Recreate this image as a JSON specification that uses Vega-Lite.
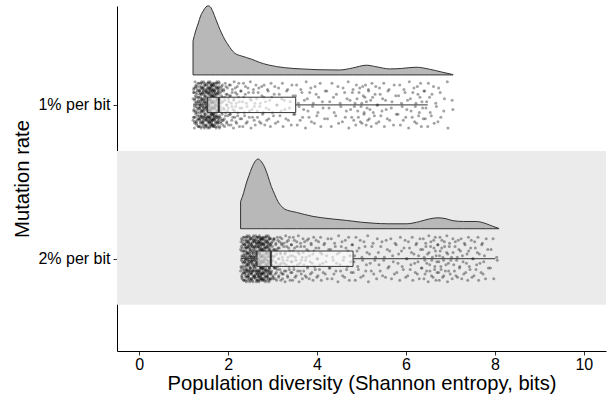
{
"$schema":"https://vega.github.io/schema/vega-lite/v6.json",
"width":489,"height":345,
"autosize":{"type":"none"},
"padding":{"left":117,"top":6,"right":2,"bottom":48},
"config":{"view":{"stroke":null},"font":"Liberation Sans",
 "axis":{"grid":false,"domainColor":"black","domainWidth":1,"tickColor":"#333333","tickSize":4,"tickWidth":1,"labelFont":"Liberation Sans","labelFontSize":16,"labelColor":"black","titleFont":"Liberation Sans","titleFontSize":20.2,"titleFontWeight":"normal","titleColor":"black"},
 "axisX":{"labelBaseline":"alphabetic","labelPadding":14.5,"titleY":38.5,"titleBaseline":"alphabetic"},
 "axisY":{"labelPadding":3,"titleX":-88.5,"titleBaseline":"alphabetic"}},
"datasets":{
"band":[{"lo":0.7,"hi":1.7}],
"dens":[
{"g":2,"x":1.21,"d":0.221},{"g":2,"x":1.27,"d":0.286},{"g":2,"x":1.33,"d":0.338},{"g":2,"x":1.38,"d":0.383},{"g":2,"x":1.44,"d":0.416},{"g":2,"x":1.50,"d":0.442},{"g":2,"x":1.55,"d":0.449},{"g":2,"x":1.60,"d":0.442},{"g":2,"x":1.66,"d":0.409},{"g":2,"x":1.72,"d":0.364},{"g":2,"x":1.78,"d":0.320},{"g":2,"x":1.85,"d":0.273},{"g":2,"x":1.93,"d":0.227},{"g":2,"x":2.00,"d":0.195},{"g":2,"x":2.08,"d":0.162},{"g":2,"x":2.15,"d":0.141},{"g":2,"x":2.30,"d":0.123},{"g":2,"x":2.53,"d":0.102},{"g":2,"x":2.70,"d":0.082},{"g":2,"x":2.90,"d":0.065},{"g":2,"x":3.27,"d":0.047},{"g":2,"x":3.65,"d":0.039},{"g":2,"x":4.00,"d":0.034},{"g":2,"x":4.51,"d":0.032},{"g":2,"x":4.80,"d":0.045},{"g":2,"x":5.11,"d":0.063},{"g":2,"x":5.35,"d":0.052},{"g":2,"x":5.63,"d":0.039},{"g":2,"x":5.90,"d":0.042},{"g":2,"x":6.23,"d":0.050},{"g":2,"x":6.53,"d":0.037},{"g":2,"x":6.80,"d":0.019},{"g":2,"x":7.06,"d":0.002},
{"g":1,"x":2.28,"d":0.177},{"g":1,"x":2.35,"d":0.234},{"g":1,"x":2.41,"d":0.297},{"g":1,"x":2.47,"d":0.347},{"g":1,"x":2.53,"d":0.394},{"g":1,"x":2.60,"d":0.435},{"g":1,"x":2.67,"d":0.453},{"g":1,"x":2.75,"d":0.435},{"g":1,"x":2.83,"d":0.394},{"g":1,"x":2.90,"d":0.338},{"g":1,"x":2.97,"d":0.275},{"g":1,"x":3.05,"d":0.221},{"g":1,"x":3.12,"d":0.177},{"g":1,"x":3.20,"d":0.146},{"g":1,"x":3.27,"d":0.128},{"g":1,"x":3.54,"d":0.106},{"g":1,"x":3.91,"d":0.080},{"g":1,"x":4.29,"d":0.065},{"g":1,"x":4.66,"d":0.054},{"g":1,"x":5.00,"d":0.042},{"g":1,"x":5.26,"d":0.036},{"g":1,"x":5.60,"d":0.032},{"g":1,"x":6.01,"d":0.032},{"g":1,"x":6.31,"d":0.047},{"g":1,"x":6.50,"d":0.062},{"g":1,"x":6.72,"d":0.071},{"g":1,"x":6.90,"d":0.065},{"g":1,"x":7.06,"d":0.052},{"g":1,"x":7.30,"d":0.047},{"g":1,"x":7.58,"d":0.047},{"g":1,"x":7.81,"d":0.032},{"g":1,"x":7.95,"d":0.016},{"g":1,"x":8.09,"d":0.002}
],
"box":[
{"g":2,"lo":1.21,"q1":1.54,"med":1.79,"q3":3.52,"hi":6.49},
{"g":1,"lo":2.28,"q1":2.65,"med":2.96,"q3":4.81,"hi":8.01}
],
"pts":[
{"x":1.21,"y":2.04},{"x":1.22,"y":1.92},{"x":1.23,"y":2.11},{"x":1.24,"y":1.99},{"x":1.25,"y":1.88},{"x":1.26,"y":2.06},{"x":1.27,"y":1.95},{"x":1.28,"y":2.13},{"x":1.29,"y":2.02},{"x":1.30,"y":1.90},{"x":1.31,"y":2.09},{"x":1.32,"y":1.97},{"x":1.33,"y":1.86},{"x":1.34,"y":2.05},{"x":1.35,"y":1.93},{"x":1.36,"y":2.12},{"x":1.37,"y":2.00},{"x":1.38,"y":1.89},{"x":1.39,"y":2.07},{"x":1.40,"y":1.96},{"x":1.41,"y":2.14},{"x":1.42,"y":2.03},{"x":1.43,"y":1.91},{"x":1.44,"y":2.10},{"x":1.45,"y":1.98},{"x":1.46,"y":1.87},{"x":1.47,"y":2.06},{"x":1.48,"y":1.94},{"x":1.49,"y":2.13},{"x":1.50,"y":2.01},{"x":1.51,"y":1.90},{"x":1.52,"y":2.08},{"x":1.53,"y":1.97},{"x":1.54,"y":1.85},
{"x":1.21,"y":1.90},{"x":1.22,"y":2.08},{"x":1.23,"y":1.97},{"x":1.24,"y":1.85},{"x":1.25,"y":2.04},{"x":1.26,"y":1.92},{"x":1.27,"y":2.11},{"x":1.28,"y":1.99},{"x":1.29,"y":1.88},{"x":1.30,"y":2.07},{"x":1.31,"y":1.95},{"x":1.32,"y":2.14},{"x":1.33,"y":2.02},{"x":1.34,"y":1.91},{"x":1.35,"y":2.09},{"x":1.36,"y":1.98},{"x":1.37,"y":1.86},{"x":1.38,"y":2.05},{"x":1.39,"y":1.93},{"x":1.40,"y":2.12},{"x":1.41,"y":2.01},{"x":1.42,"y":1.89},{"x":1.43,"y":2.08},{"x":1.44,"y":1.96},{"x":1.45,"y":2.15},{"x":1.46,"y":2.03},{"x":1.47,"y":1.92},{"x":1.48,"y":2.10},{"x":1.49,"y":1.99},{"x":1.50,"y":1.87},{"x":1.51,"y":2.04},{"x":1.52,"y":1.92},{"x":1.53,"y":2.11},{"x":1.54,"y":1.99},
{"x":1.35,"y":2.01},{"x":1.36,"y":1.90},{"x":1.37,"y":2.08},{"x":1.38,"y":1.97},{"x":1.39,"y":1.85},{"x":1.40,"y":2.04},{"x":1.41,"y":1.92},{"x":1.42,"y":2.11},{"x":1.43,"y":1.99},{"x":1.44,"y":1.88},{"x":1.45,"y":2.07},{"x":1.46,"y":1.95},{"x":1.47,"y":2.14},{"x":1.48,"y":2.02},{"x":1.49,"y":1.91},{"x":1.50,"y":2.09},{"x":1.51,"y":1.98},{"x":1.52,"y":1.86},{"x":1.53,"y":2.05},{"x":1.54,"y":1.93},
{"x":1.55,"y":2.04},{"x":1.56,"y":1.92},{"x":1.57,"y":2.11},{"x":1.58,"y":1.99},{"x":1.59,"y":1.88},{"x":1.60,"y":2.06},{"x":1.61,"y":1.95},{"x":1.62,"y":2.13},{"x":1.63,"y":2.02},{"x":1.64,"y":1.90},{"x":1.65,"y":2.09},{"x":1.66,"y":1.97},{"x":1.67,"y":1.86},{"x":1.68,"y":2.05},{"x":1.69,"y":1.93},{"x":1.70,"y":2.12},{"x":1.71,"y":2.00},{"x":1.72,"y":1.89},{"x":1.73,"y":2.07},{"x":1.74,"y":1.96},{"x":1.75,"y":2.14},{"x":1.76,"y":2.03},{"x":1.77,"y":1.91},{"x":1.78,"y":2.10},{"x":1.79,"y":1.98},
{"x":1.55,"y":1.90},{"x":1.56,"y":2.08},{"x":1.57,"y":1.97},{"x":1.58,"y":1.85},{"x":1.59,"y":2.04},{"x":1.60,"y":1.92},{"x":1.61,"y":2.11},{"x":1.62,"y":1.99},{"x":1.63,"y":1.88},{"x":1.64,"y":2.07},{"x":1.65,"y":1.95},{"x":1.66,"y":2.14},{"x":1.67,"y":2.02},{"x":1.68,"y":1.91},{"x":1.69,"y":2.09},{"x":1.70,"y":1.98},{"x":1.71,"y":1.86},{"x":1.72,"y":2.05},{"x":1.73,"y":1.93},{"x":1.74,"y":2.12},{"x":1.75,"y":2.01},{"x":1.76,"y":1.89},{"x":1.77,"y":2.08},{"x":1.78,"y":1.96},{"x":1.79,"y":2.15},
{"x":1.55,"y":2.12},{"x":1.56,"y":2.00},{"x":1.57,"y":1.89},{"x":1.58,"y":2.07},{"x":1.59,"y":1.96},{"x":1.60,"y":2.14},{"x":1.61,"y":2.03},{"x":1.62,"y":1.91},{"x":1.63,"y":2.10},{"x":1.64,"y":1.98},{"x":1.65,"y":1.87},{"x":1.66,"y":2.06},{"x":1.67,"y":1.94},{"x":1.68,"y":2.13},{"x":1.69,"y":2.01},{"x":1.70,"y":1.90},{"x":1.71,"y":2.08},{"x":1.72,"y":1.97},{"x":1.73,"y":1.85},{"x":1.74,"y":2.04},{"x":1.75,"y":1.92},{"x":1.76,"y":2.11},{"x":1.77,"y":1.99},{"x":1.78,"y":1.88},{"x":1.79,"y":2.07},
{"x":1.55,"y":1.96},{"x":1.56,"y":2.14},{"x":1.57,"y":2.03},{"x":1.58,"y":1.91},{"x":1.59,"y":2.10},{"x":1.60,"y":1.98},{"x":1.61,"y":1.87},{"x":1.62,"y":2.06},{"x":1.63,"y":1.94},{"x":1.64,"y":2.13},{"x":1.65,"y":2.01},{"x":1.66,"y":1.90},{"x":1.67,"y":2.08},
{"x":1.80,"y":2.04},{"x":1.81,"y":1.92},{"x":1.82,"y":2.11},{"x":1.83,"y":1.99},{"x":1.84,"y":1.88},{"x":1.85,"y":2.06},{"x":1.86,"y":1.95},{"x":1.87,"y":2.13},{"x":1.88,"y":2.02},{"x":1.89,"y":1.90},{"x":1.90,"y":2.09},{"x":1.91,"y":1.97},{"x":1.92,"y":1.86},{"x":1.93,"y":2.05},{"x":1.94,"y":1.93},{"x":1.95,"y":2.12},{"x":1.96,"y":2.00},{"x":1.97,"y":1.89},{"x":1.98,"y":2.07},{"x":1.99,"y":1.96},{"x":1.80,"y":2.14},{"x":1.82,"y":2.03},{"x":1.84,"y":1.91},{"x":1.86,"y":2.10},
{"x":2.00,"y":1.98},{"x":2.01,"y":1.87},{"x":2.03,"y":2.06},{"x":2.04,"y":1.94},{"x":2.05,"y":2.13},{"x":2.07,"y":2.01},{"x":2.08,"y":1.90},{"x":2.09,"y":2.08},{"x":2.11,"y":1.97},{"x":2.12,"y":1.85},{"x":2.13,"y":2.04},{"x":2.15,"y":1.92},{"x":2.16,"y":2.11},{"x":2.17,"y":1.99},{"x":2.19,"y":1.88},
{"x":2.20,"y":2.07},{"x":2.22,"y":1.95},{"x":2.24,"y":2.14},{"x":2.25,"y":2.02},{"x":2.27,"y":1.91},{"x":2.29,"y":2.09},{"x":2.31,"y":1.98},{"x":2.33,"y":1.86},{"x":2.35,"y":2.05},{"x":2.37,"y":1.93},{"x":2.39,"y":2.12},
{"x":2.41,"y":2.01},{"x":2.43,"y":1.89},{"x":2.46,"y":2.08},{"x":2.48,"y":1.96},{"x":2.50,"y":2.15},{"x":2.52,"y":2.03},{"x":2.55,"y":1.92},{"x":2.57,"y":2.10},{"x":2.59,"y":1.99},
{"x":2.61,"y":1.87},{"x":2.64,"y":2.04},{"x":2.66,"y":1.92},{"x":2.69,"y":2.11},{"x":2.71,"y":1.99},{"x":2.74,"y":1.88},{"x":2.76,"y":2.06},{"x":2.79,"y":1.95},
{"x":2.81,"y":2.13},{"x":2.84,"y":2.02},{"x":2.87,"y":1.90},{"x":2.90,"y":2.09},{"x":2.92,"y":1.97},{"x":2.95,"y":1.86},{"x":2.98,"y":2.05},
{"x":3.02,"y":1.93},{"x":3.05,"y":2.12},{"x":3.09,"y":2.00},{"x":3.12,"y":1.89},{"x":3.15,"y":2.07},{"x":3.19,"y":1.96},
{"x":3.22,"y":2.14},{"x":3.26,"y":2.03},{"x":3.30,"y":1.91},{"x":3.34,"y":2.10},{"x":3.38,"y":1.98},
{"x":3.42,"y":1.87},{"x":3.46,"y":2.06},{"x":3.50,"y":1.94},
{"x":3.54,"y":2.13},{"x":3.58,"y":2.01},{"x":3.62,"y":1.90},{"x":3.66,"y":2.08},{"x":3.70,"y":1.97},{"x":3.74,"y":1.85},{"x":3.78,"y":2.04},
{"x":3.82,"y":1.92},{"x":3.86,"y":2.11},{"x":3.90,"y":1.99},{"x":3.94,"y":1.88},{"x":3.98,"y":2.07},
{"x":4.02,"y":1.95},{"x":4.07,"y":2.14},{"x":4.12,"y":2.02},{"x":4.17,"y":1.91},
{"x":4.22,"y":2.09},{"x":4.27,"y":1.98},{"x":4.32,"y":1.86},{"x":4.37,"y":2.05},
{"x":4.42,"y":1.93},{"x":4.47,"y":2.12},{"x":4.52,"y":2.01},{"x":4.57,"y":1.89},
{"x":4.62,"y":2.08},{"x":4.66,"y":1.96},{"x":4.70,"y":2.15},{"x":4.74,"y":2.03},{"x":4.78,"y":1.92},
{"x":4.81,"y":2.10},{"x":4.84,"y":1.99},{"x":4.87,"y":1.87},{"x":4.90,"y":2.04},{"x":4.93,"y":1.92},{"x":4.96,"y":2.11},{"x":4.99,"y":1.99},
{"x":5.01,"y":1.88},{"x":5.04,"y":2.06},{"x":5.06,"y":1.95},{"x":5.09,"y":2.13},{"x":5.11,"y":2.02},{"x":5.14,"y":1.90},{"x":5.16,"y":2.09},{"x":5.19,"y":1.97},
{"x":5.22,"y":1.86},{"x":5.25,"y":2.05},{"x":5.29,"y":1.93},{"x":5.32,"y":2.12},{"x":5.35,"y":2.00},{"x":5.39,"y":1.89},
{"x":5.42,"y":2.07},{"x":5.46,"y":1.96},{"x":5.50,"y":2.14},{"x":5.54,"y":2.03},{"x":5.58,"y":1.91},
{"x":5.62,"y":2.10},{"x":5.67,"y":1.98},{"x":5.72,"y":1.87},{"x":5.77,"y":2.06},
{"x":5.82,"y":1.94},{"x":5.86,"y":2.13},{"x":5.90,"y":2.01},{"x":5.94,"y":1.90},{"x":5.98,"y":2.08},
{"x":6.02,"y":1.97},{"x":6.06,"y":1.85},{"x":6.10,"y":2.04},{"x":6.14,"y":1.92},{"x":6.18,"y":2.11},
{"x":6.21,"y":1.99},{"x":6.24,"y":1.88},{"x":6.27,"y":2.07},{"x":6.30,"y":1.95},{"x":6.33,"y":2.14},{"x":6.36,"y":2.02},{"x":6.39,"y":1.91},
{"x":6.42,"y":2.09},{"x":6.45,"y":1.98},{"x":6.49,"y":1.86},{"x":6.53,"y":2.05},{"x":6.57,"y":1.93},
{"x":6.62,"y":2.12},{"x":6.67,"y":2.01},{"x":6.72,"y":1.89},{"x":6.77,"y":2.08},
{"x":6.85,"y":1.96},{"x":6.93,"y":2.15},{"x":7.04,"y":2.03},
{"x":1.225,"y":1.96},{"x":1.235,"y":2.08},{"x":1.245,"y":1.89},{"x":1.255,"y":2.01},{"x":1.265,"y":2.12},{"x":1.275,"y":1.94},{"x":1.285,"y":2.05},{"x":1.295,"y":1.87},{"x":1.305,"y":1.98},{"x":1.315,"y":2.10},{"x":1.325,"y":1.91},{"x":1.335,"y":2.03},{"x":1.345,"y":2.14},{"x":1.355,"y":1.95},{"x":1.365,"y":2.07},{"x":1.375,"y":1.88},{"x":1.385,"y":2.00},{"x":1.395,"y":2.11},{"x":1.405,"y":1.93},{"x":1.415,"y":2.04},{"x":1.425,"y":1.86},{"x":1.435,"y":1.97},{"x":1.445,"y":2.09},{"x":1.455,"y":1.90},{"x":1.465,"y":2.02},{"x":1.475,"y":2.13},{"x":1.485,"y":1.94},{"x":1.495,"y":2.06},{"x":1.505,"y":1.87},{"x":1.515,"y":1.99},{"x":1.525,"y":2.10},{"x":1.535,"y":1.92},{"x":1.545,"y":2.03},{"x":1.555,"y":2.15},
{"x":1.225,"y":2.10},{"x":1.235,"y":1.92},{"x":1.245,"y":2.03},{"x":1.255,"y":2.15},{"x":1.265,"y":1.96},{"x":1.275,"y":2.08},{"x":1.285,"y":1.89},{"x":1.295,"y":2.01},{"x":1.305,"y":2.12},{"x":1.315,"y":1.93},{"x":1.325,"y":2.05},{"x":1.335,"y":1.86},{"x":1.345,"y":1.98},{"x":1.355,"y":2.09},{"x":1.365,"y":1.91},{"x":1.375,"y":2.02},{"x":1.385,"y":2.14},{"x":1.395,"y":1.95},{"x":1.405,"y":2.07},{"x":1.415,"y":1.88},{"x":1.425,"y":1.99},{"x":1.435,"y":2.11},{"x":1.445,"y":1.92},{"x":1.455,"y":2.04},{"x":1.465,"y":1.85},{"x":1.475,"y":1.97},{"x":1.485,"y":2.08},{"x":1.495,"y":1.90},{"x":1.505,"y":2.01},{"x":1.515,"y":2.13},{"x":1.525,"y":1.96},{"x":1.535,"y":2.08},{"x":1.545,"y":1.89},{"x":1.555,"y":2.01},
{"x":1.365,"y":1.99},{"x":1.375,"y":2.10},{"x":1.385,"y":1.92},{"x":1.395,"y":2.03},{"x":1.405,"y":2.15},{"x":1.415,"y":1.96},{"x":1.425,"y":2.08},{"x":1.435,"y":1.89},{"x":1.445,"y":2.01},{"x":1.455,"y":2.12},{"x":1.465,"y":1.93},{"x":1.475,"y":2.05},{"x":1.485,"y":1.86},{"x":1.495,"y":1.98},{"x":1.505,"y":2.09},{"x":1.515,"y":1.91},{"x":1.525,"y":2.02},{"x":1.535,"y":2.14},{"x":1.545,"y":1.95},{"x":1.555,"y":2.07},
{"x":1.565,"y":1.96},{"x":1.575,"y":2.08},{"x":1.585,"y":1.89},{"x":1.595,"y":2.01},{"x":1.605,"y":2.12},{"x":1.615,"y":1.94},{"x":1.625,"y":2.05},{"x":1.635,"y":1.87},{"x":1.645,"y":1.98},{"x":1.655,"y":2.10},{"x":1.665,"y":1.91},{"x":1.675,"y":2.03},{"x":1.685,"y":2.14},{"x":1.695,"y":1.95},{"x":1.705,"y":2.07},{"x":1.715,"y":1.88},{"x":1.725,"y":2.00},{"x":1.735,"y":2.11},{"x":1.745,"y":1.93},{"x":1.755,"y":2.04},{"x":1.765,"y":1.86},{"x":1.775,"y":1.97},{"x":1.785,"y":2.09},{"x":1.795,"y":1.90},{"x":1.805,"y":2.02},
{"x":1.565,"y":2.10},{"x":1.575,"y":1.92},{"x":1.585,"y":2.03},{"x":1.595,"y":2.15},{"x":1.605,"y":1.96},{"x":1.615,"y":2.08},{"x":1.625,"y":1.89},{"x":1.635,"y":2.01},{"x":1.645,"y":2.12},{"x":1.655,"y":1.93},{"x":1.665,"y":2.05},{"x":1.675,"y":1.86},{"x":1.685,"y":1.98},{"x":1.695,"y":2.09},{"x":1.705,"y":1.91},{"x":1.715,"y":2.02},{"x":1.725,"y":2.14},{"x":1.735,"y":1.95},{"x":1.745,"y":2.07},{"x":1.755,"y":1.88},{"x":1.765,"y":1.99},{"x":1.775,"y":2.11},{"x":1.785,"y":1.92},{"x":1.795,"y":2.04},{"x":1.805,"y":1.85},
{"x":1.565,"y":1.88},{"x":1.575,"y":2.00},{"x":1.585,"y":2.11},{"x":1.595,"y":1.93},{"x":1.605,"y":2.04},{"x":1.615,"y":1.86},{"x":1.625,"y":1.97},{"x":1.635,"y":2.09},{"x":1.645,"y":1.90},{"x":1.655,"y":2.02},{"x":1.665,"y":2.13},{"x":1.675,"y":1.94},{"x":1.685,"y":2.06},{"x":1.695,"y":1.87},{"x":1.705,"y":1.99},{"x":1.715,"y":2.10},{"x":1.725,"y":1.92},{"x":1.735,"y":2.03},{"x":1.745,"y":2.15},{"x":1.755,"y":1.96},{"x":1.765,"y":2.08},{"x":1.775,"y":1.89},{"x":1.785,"y":2.01},{"x":1.795,"y":2.12},{"x":1.805,"y":1.93},
{"x":1.565,"y":2.04},{"x":1.575,"y":1.86},{"x":1.585,"y":1.97},{"x":1.595,"y":2.09},{"x":1.605,"y":1.90},{"x":1.615,"y":2.02},{"x":1.625,"y":2.13},{"x":1.635,"y":1.94},{"x":1.645,"y":2.06},{"x":1.655,"y":1.87},{"x":1.665,"y":1.99},{"x":1.675,"y":2.10},{"x":1.685,"y":1.92},
{"x":1.815,"y":1.96},{"x":1.825,"y":2.08},{"x":1.835,"y":1.89},{"x":1.845,"y":2.01},{"x":1.855,"y":2.12},{"x":1.865,"y":1.94},{"x":1.875,"y":2.05},{"x":1.885,"y":1.87},{"x":1.895,"y":1.98},{"x":1.905,"y":2.10},{"x":1.915,"y":1.91},{"x":1.925,"y":2.03},{"x":1.935,"y":2.14},{"x":1.945,"y":1.95},{"x":1.955,"y":2.07},{"x":1.965,"y":1.88},{"x":1.975,"y":2.00},{"x":1.985,"y":2.11},{"x":1.995,"y":1.93},{"x":2.005,"y":2.04},{"x":1.815,"y":1.86},{"x":1.835,"y":1.97},{"x":1.855,"y":2.09},{"x":1.875,"y":1.90},
{"x":2.015,"y":2.02},{"x":2.025,"y":2.13},{"x":2.045,"y":1.94},{"x":2.055,"y":2.06},{"x":2.065,"y":1.87},{"x":2.085,"y":1.99},{"x":2.095,"y":2.10},{"x":2.105,"y":1.92},{"x":2.125,"y":2.03},{"x":2.135,"y":2.15},{"x":2.145,"y":1.96},{"x":2.165,"y":2.08},{"x":2.175,"y":1.89},{"x":2.185,"y":2.01},{"x":2.205,"y":2.12},
{"x":2.215,"y":1.93},{"x":2.235,"y":2.05},{"x":2.255,"y":1.86},{"x":2.265,"y":1.98},{"x":2.285,"y":2.09},{"x":2.305,"y":1.91},{"x":2.325,"y":2.02},{"x":2.345,"y":2.14},{"x":2.365,"y":1.95},{"x":2.385,"y":2.07},{"x":2.405,"y":1.88},
{"x":2.425,"y":1.99},{"x":2.445,"y":2.11},{"x":2.475,"y":1.92},{"x":2.495,"y":2.04},{"x":2.515,"y":1.85},{"x":2.535,"y":1.97},{"x":2.565,"y":2.08},{"x":2.585,"y":1.90},{"x":2.605,"y":2.01},
{"x":2.625,"y":2.13},{"x":2.655,"y":1.96},{"x":2.675,"y":2.08},{"x":2.705,"y":1.89},{"x":2.725,"y":2.01},{"x":2.755,"y":2.12},{"x":2.775,"y":1.94},{"x":2.805,"y":2.05},
{"x":2.825,"y":1.87},{"x":2.855,"y":1.98},{"x":2.885,"y":2.10},{"x":2.915,"y":1.91},{"x":2.935,"y":2.03},{"x":2.965,"y":2.14},{"x":2.995,"y":1.95},
{"x":3.035,"y":2.07},{"x":3.065,"y":1.88},{"x":3.105,"y":2.00},{"x":3.135,"y":2.11},{"x":3.165,"y":1.93},{"x":3.205,"y":2.04},
{"x":3.235,"y":1.86},{"x":3.275,"y":1.97},{"x":3.315,"y":2.09},{"x":3.355,"y":1.90},{"x":3.395,"y":2.02},
{"x":3.435,"y":2.13},{"x":3.475,"y":1.94},{"x":3.515,"y":2.06},
{"x":3.555,"y":1.87},{"x":3.595,"y":1.99},{"x":3.635,"y":2.10},{"x":3.675,"y":1.92},{"x":3.715,"y":2.03},{"x":3.755,"y":2.15},{"x":3.795,"y":1.96},
{"x":3.835,"y":2.08},{"x":3.875,"y":1.89},{"x":3.915,"y":2.01},{"x":3.955,"y":2.12},{"x":3.995,"y":1.93},
{"x":4.035,"y":2.05},{"x":4.085,"y":1.86},{"x":4.135,"y":1.98},{"x":4.185,"y":2.09},
{"x":4.235,"y":1.91},{"x":4.285,"y":2.02},{"x":4.335,"y":2.14},{"x":4.385,"y":1.95},
{"x":4.435,"y":2.07},{"x":4.485,"y":1.88},{"x":4.535,"y":1.99},{"x":4.585,"y":2.11},
{"x":4.635,"y":1.92},{"x":4.675,"y":2.04},{"x":4.715,"y":1.85},{"x":4.755,"y":1.97},{"x":4.795,"y":2.08},
{"x":4.825,"y":1.90},{"x":4.855,"y":2.01},{"x":4.885,"y":2.13},{"x":4.915,"y":1.96},{"x":4.945,"y":2.08},{"x":4.975,"y":1.89},{"x":5.005,"y":2.01},
{"x":5.025,"y":2.12},{"x":5.055,"y":1.94},{"x":5.075,"y":2.05},{"x":5.105,"y":1.87},{"x":5.125,"y":1.98},{"x":5.155,"y":2.10},{"x":5.175,"y":1.91},{"x":5.205,"y":2.03},
{"x":5.235,"y":2.14},{"x":5.265,"y":1.95},{"x":5.305,"y":2.07},{"x":5.335,"y":1.88},{"x":5.365,"y":2.00},{"x":5.405,"y":2.11},
{"x":5.435,"y":1.93},{"x":5.475,"y":2.04},{"x":5.515,"y":1.86},{"x":5.555,"y":1.97},{"x":5.595,"y":2.09},
{"x":5.635,"y":1.90},{"x":5.685,"y":2.02},{"x":5.735,"y":2.13},{"x":5.785,"y":1.94},
{"x":5.835,"y":2.06},{"x":5.875,"y":1.87},{"x":5.915,"y":1.99},{"x":5.955,"y":2.10},{"x":5.995,"y":1.92},
{"x":6.035,"y":2.03},{"x":6.075,"y":2.15},{"x":6.115,"y":1.96},{"x":6.155,"y":2.08},{"x":6.195,"y":1.89},
{"x":6.225,"y":2.01},{"x":6.255,"y":2.12},{"x":6.285,"y":1.93},{"x":6.315,"y":2.05},{"x":6.345,"y":1.86},{"x":6.375,"y":1.98},{"x":6.405,"y":2.09},
{"x":6.435,"y":1.91},{"x":6.465,"y":2.02},{"x":6.505,"y":2.14},{"x":6.545,"y":1.95},{"x":6.585,"y":2.07},
{"x":6.635,"y":1.88},{"x":6.685,"y":1.99},{"x":6.735,"y":2.11},{"x":6.785,"y":1.92},
{"x":6.865,"y":2.04},{"x":6.945,"y":1.85},{"x":7.055,"y":1.97},
{"x":2.28,"y":1.06},{"x":2.29,"y":0.95},{"x":2.30,"y":1.13},{"x":2.31,"y":1.02},{"x":2.32,"y":0.90},{"x":2.33,"y":1.09},{"x":2.34,"y":0.97},{"x":2.35,"y":0.86},{"x":2.36,"y":1.05},{"x":2.37,"y":0.93},{"x":2.38,"y":1.12},{"x":2.39,"y":1.00},{"x":2.40,"y":0.89},{"x":2.41,"y":1.07},{"x":2.42,"y":0.96},{"x":2.43,"y":1.14},{"x":2.44,"y":1.03},{"x":2.45,"y":0.91},{"x":2.46,"y":1.10},{"x":2.47,"y":0.98},{"x":2.48,"y":0.87},{"x":2.49,"y":1.06},{"x":2.50,"y":0.94},{"x":2.51,"y":1.13},{"x":2.52,"y":1.01},{"x":2.53,"y":0.90},{"x":2.54,"y":1.08},{"x":2.55,"y":0.97},{"x":2.56,"y":0.85},{"x":2.57,"y":1.04},{"x":2.58,"y":0.92},{"x":2.59,"y":1.11},{"x":2.60,"y":0.99},{"x":2.61,"y":0.88},{"x":2.62,"y":1.07},{"x":2.63,"y":0.95},{"x":2.64,"y":1.14},{"x":2.65,"y":1.02},
{"x":2.28,"y":0.92},{"x":2.29,"y":1.11},{"x":2.30,"y":0.99},{"x":2.31,"y":0.88},{"x":2.32,"y":1.07},{"x":2.33,"y":0.95},{"x":2.34,"y":1.14},{"x":2.35,"y":1.02},{"x":2.36,"y":0.91},{"x":2.37,"y":1.09},{"x":2.38,"y":0.98},{"x":2.39,"y":0.86},{"x":2.40,"y":1.05},{"x":2.41,"y":0.93},{"x":2.42,"y":1.12},{"x":2.43,"y":1.01},{"x":2.44,"y":0.89},{"x":2.45,"y":1.08},{"x":2.46,"y":0.96},{"x":2.47,"y":1.15},{"x":2.48,"y":1.03},{"x":2.49,"y":0.92},{"x":2.50,"y":1.10},{"x":2.51,"y":0.99},{"x":2.52,"y":0.87},{"x":2.53,"y":1.04},{"x":2.54,"y":0.92},{"x":2.55,"y":1.11},{"x":2.56,"y":0.99},{"x":2.57,"y":0.88},{"x":2.58,"y":1.06},{"x":2.59,"y":0.95},{"x":2.60,"y":1.13},{"x":2.61,"y":1.02},{"x":2.62,"y":0.90},{"x":2.63,"y":1.09},{"x":2.64,"y":0.97},{"x":2.65,"y":0.86},
{"x":2.37,"y":1.01},{"x":2.38,"y":0.90},{"x":2.39,"y":1.08},{"x":2.40,"y":0.97},{"x":2.41,"y":0.85},{"x":2.42,"y":1.04},{"x":2.43,"y":0.92},{"x":2.44,"y":1.11},{"x":2.45,"y":0.99},{"x":2.46,"y":0.88},{"x":2.47,"y":1.07},{"x":2.48,"y":0.95},{"x":2.49,"y":1.14},{"x":2.50,"y":1.02},{"x":2.51,"y":0.91},{"x":2.52,"y":1.09},{"x":2.53,"y":0.98},{"x":2.54,"y":0.86},{"x":2.55,"y":1.05},{"x":2.56,"y":0.93},{"x":2.57,"y":1.12},{"x":2.58,"y":1.01},{"x":2.59,"y":0.89},{"x":2.60,"y":1.08},{"x":2.61,"y":0.96},{"x":2.62,"y":1.15},{"x":2.63,"y":1.03},{"x":2.64,"y":0.92},{"x":2.65,"y":1.10},
{"x":2.66,"y":1.04},{"x":2.67,"y":0.92},{"x":2.68,"y":1.11},{"x":2.69,"y":0.99},{"x":2.70,"y":0.88},{"x":2.71,"y":1.06},{"x":2.72,"y":0.95},{"x":2.73,"y":1.13},{"x":2.74,"y":1.02},{"x":2.75,"y":0.90},{"x":2.76,"y":1.09},{"x":2.77,"y":0.97},{"x":2.78,"y":0.86},{"x":2.79,"y":1.05},{"x":2.80,"y":0.93},{"x":2.81,"y":1.12},{"x":2.82,"y":1.00},{"x":2.83,"y":0.89},{"x":2.84,"y":1.07},{"x":2.85,"y":0.96},{"x":2.86,"y":1.14},{"x":2.87,"y":1.03},{"x":2.88,"y":0.91},{"x":2.89,"y":1.10},{"x":2.90,"y":0.98},{"x":2.91,"y":0.87},{"x":2.92,"y":1.06},{"x":2.93,"y":0.94},{"x":2.94,"y":1.13},{"x":2.95,"y":1.01},{"x":2.96,"y":0.90},
{"x":2.66,"y":0.90},{"x":2.67,"y":1.08},{"x":2.68,"y":0.97},{"x":2.69,"y":0.85},{"x":2.70,"y":1.04},{"x":2.71,"y":0.92},{"x":2.72,"y":1.11},{"x":2.73,"y":0.99},{"x":2.74,"y":0.88},{"x":2.75,"y":1.07},{"x":2.76,"y":0.95},{"x":2.77,"y":1.14},{"x":2.78,"y":1.02},{"x":2.79,"y":0.91},{"x":2.80,"y":1.09},{"x":2.81,"y":0.98},{"x":2.82,"y":0.86},{"x":2.83,"y":1.05},{"x":2.84,"y":0.93},{"x":2.85,"y":1.12},{"x":2.86,"y":1.01},{"x":2.87,"y":0.89},{"x":2.88,"y":1.08},{"x":2.89,"y":0.96},{"x":2.90,"y":1.15},{"x":2.91,"y":1.03},{"x":2.92,"y":0.92},{"x":2.93,"y":1.10},{"x":2.94,"y":0.99},{"x":2.95,"y":0.87},{"x":2.96,"y":1.04},
{"x":2.66,"y":1.12},{"x":2.67,"y":1.00},{"x":2.68,"y":0.89},{"x":2.69,"y":1.07},{"x":2.70,"y":0.96},{"x":2.71,"y":1.14},{"x":2.72,"y":1.03},{"x":2.73,"y":0.91},{"x":2.74,"y":1.10},{"x":2.75,"y":0.98},{"x":2.76,"y":0.87},{"x":2.77,"y":1.06},{"x":2.78,"y":0.94},{"x":2.79,"y":1.13},{"x":2.80,"y":1.01},{"x":2.81,"y":0.90},{"x":2.82,"y":1.08},{"x":2.83,"y":0.97},{"x":2.84,"y":0.85},{"x":2.85,"y":1.04},{"x":2.86,"y":0.92},{"x":2.87,"y":1.11},{"x":2.88,"y":0.99},{"x":2.89,"y":0.88},{"x":2.90,"y":1.07},{"x":2.91,"y":0.95},{"x":2.92,"y":1.14},{"x":2.93,"y":1.02},{"x":2.94,"y":0.91},{"x":2.95,"y":1.09},{"x":2.96,"y":0.98},
{"x":2.66,"y":0.96},{"x":2.67,"y":1.14},{"x":2.68,"y":1.03},{"x":2.69,"y":0.91},{"x":2.70,"y":1.10},{"x":2.71,"y":0.98},{"x":2.72,"y":0.87},{"x":2.73,"y":1.06},{"x":2.74,"y":0.94},{"x":2.75,"y":1.13},{"x":2.76,"y":1.01},{"x":2.77,"y":0.90},
{"x":2.97,"y":1.04},{"x":2.98,"y":0.92},{"x":2.99,"y":1.11},{"x":3.00,"y":0.99},{"x":3.01,"y":0.88},{"x":3.02,"y":1.06},{"x":3.03,"y":0.95},{"x":3.04,"y":1.13},{"x":3.05,"y":1.02},{"x":3.06,"y":0.90},{"x":3.07,"y":1.09},{"x":3.08,"y":0.97},{"x":3.09,"y":0.86},{"x":3.10,"y":1.05},{"x":3.11,"y":0.93},{"x":3.12,"y":1.12},{"x":3.13,"y":1.00},{"x":3.14,"y":0.89},{"x":3.15,"y":1.07},{"x":3.16,"y":0.96},{"x":3.17,"y":1.14},{"x":3.18,"y":1.03},{"x":3.19,"y":0.91},{"x":3.20,"y":1.10},
{"x":2.98,"y":0.98},{"x":3.01,"y":0.87},{"x":3.04,"y":1.06},{"x":3.07,"y":0.94},
{"x":3.21,"y":1.13},{"x":3.22,"y":1.01},{"x":3.24,"y":0.90},{"x":3.25,"y":1.08},{"x":3.26,"y":0.97},{"x":3.28,"y":0.85},{"x":3.29,"y":1.04},{"x":3.30,"y":0.92},{"x":3.32,"y":1.11},{"x":3.33,"y":0.99},{"x":3.34,"y":0.88},{"x":3.36,"y":1.07},{"x":3.37,"y":0.95},{"x":3.38,"y":1.14},{"x":3.40,"y":1.02},{"x":3.41,"y":0.91},{"x":3.42,"y":1.09},{"x":3.44,"y":0.98},{"x":3.45,"y":0.86},{"x":3.46,"y":1.05},{"x":3.48,"y":0.93},{"x":3.49,"y":1.12},
{"x":3.51,"y":1.01},{"x":3.53,"y":0.89},{"x":3.55,"y":1.08},{"x":3.56,"y":0.96},{"x":3.58,"y":1.15},{"x":3.60,"y":1.03},{"x":3.62,"y":0.92},{"x":3.63,"y":1.10},{"x":3.65,"y":0.99},{"x":3.67,"y":0.87},{"x":3.69,"y":1.04},{"x":3.70,"y":0.92},{"x":3.72,"y":1.11},{"x":3.74,"y":0.99},{"x":3.76,"y":0.88},{"x":3.77,"y":1.06},{"x":3.79,"y":0.95},
{"x":3.81,"y":1.13},{"x":3.83,"y":1.02},{"x":3.85,"y":0.90},{"x":3.87,"y":1.09},{"x":3.89,"y":0.97},{"x":3.91,"y":0.86},{"x":3.93,"y":1.05},{"x":3.96,"y":0.93},{"x":3.98,"y":1.12},{"x":4.00,"y":1.00},{"x":4.02,"y":0.89},{"x":4.04,"y":1.07},{"x":4.06,"y":0.96},{"x":4.08,"y":1.14},
{"x":4.11,"y":1.03},{"x":4.14,"y":0.91},{"x":4.17,"y":1.10},{"x":4.20,"y":0.98},{"x":4.23,"y":0.87},{"x":4.26,"y":1.06},{"x":4.29,"y":0.94},{"x":4.32,"y":1.13},{"x":4.35,"y":1.01},{"x":4.38,"y":0.90},
{"x":4.41,"y":1.08},{"x":4.44,"y":0.97},{"x":4.47,"y":0.85},{"x":4.50,"y":1.04},{"x":4.53,"y":0.92},{"x":4.56,"y":1.11},{"x":4.59,"y":0.99},{"x":4.62,"y":0.88},{"x":4.65,"y":1.07},{"x":4.68,"y":0.95},{"x":4.71,"y":1.14},{"x":4.74,"y":1.02},{"x":4.77,"y":0.91},{"x":4.80,"y":1.09},
{"x":4.83,"y":0.98},{"x":4.86,"y":0.86},{"x":4.90,"y":1.05},{"x":4.93,"y":0.93},{"x":4.97,"y":1.12},
{"x":5.01,"y":1.01},{"x":5.04,"y":0.89},{"x":5.08,"y":1.08},{"x":5.11,"y":0.96},{"x":5.14,"y":1.15},{"x":5.18,"y":1.03},
{"x":5.22,"y":0.92},{"x":5.26,"y":1.10},{"x":5.30,"y":0.99},{"x":5.34,"y":0.87},{"x":5.38,"y":1.04},
{"x":5.42,"y":0.92},{"x":5.46,"y":1.11},{"x":5.50,"y":0.99},{"x":5.54,"y":0.88},{"x":5.58,"y":1.06},
{"x":5.62,"y":0.95},{"x":5.66,"y":1.13},{"x":5.70,"y":1.02},{"x":5.74,"y":0.90},{"x":5.78,"y":1.09},
{"x":5.82,"y":0.97},{"x":5.86,"y":0.86},{"x":5.90,"y":1.05},{"x":5.94,"y":0.93},{"x":5.98,"y":1.12},
{"x":6.01,"y":1.00},{"x":6.04,"y":0.89},{"x":6.08,"y":1.07},{"x":6.11,"y":0.96},{"x":6.14,"y":1.14},{"x":6.18,"y":1.03},
{"x":6.21,"y":0.91},{"x":6.24,"y":1.10},{"x":6.27,"y":0.98},{"x":6.30,"y":0.87},{"x":6.33,"y":1.06},{"x":6.36,"y":0.94},{"x":6.39,"y":1.13},
{"x":6.41,"y":1.01},{"x":6.43,"y":0.90},{"x":6.45,"y":1.08},{"x":6.47,"y":0.97},{"x":6.50,"y":0.85},{"x":6.52,"y":1.04},{"x":6.54,"y":0.92},{"x":6.56,"y":1.11},{"x":6.58,"y":0.99},
{"x":6.61,"y":0.88},{"x":6.63,"y":1.07},{"x":6.65,"y":0.95},{"x":6.66,"y":1.14},{"x":6.68,"y":1.02},{"x":6.70,"y":0.91},{"x":6.72,"y":1.09},{"x":6.74,"y":0.98},{"x":6.75,"y":0.86},{"x":6.77,"y":1.05},{"x":6.79,"y":0.93},
{"x":6.81,"y":1.12},{"x":6.83,"y":1.01},{"x":6.85,"y":0.89},{"x":6.87,"y":1.08},{"x":6.90,"y":0.96},{"x":6.92,"y":1.15},{"x":6.94,"y":1.03},{"x":6.96,"y":0.92},{"x":6.98,"y":1.10},
{"x":7.01,"y":0.99},{"x":7.04,"y":0.87},{"x":7.06,"y":1.04},{"x":7.09,"y":0.92},{"x":7.11,"y":1.11},{"x":7.14,"y":0.99},{"x":7.16,"y":0.88},{"x":7.19,"y":1.06},
{"x":7.21,"y":0.95},{"x":7.24,"y":1.13},{"x":7.27,"y":1.02},{"x":7.30,"y":0.90},{"x":7.33,"y":1.09},{"x":7.36,"y":0.97},{"x":7.39,"y":0.86},
{"x":7.41,"y":1.05},{"x":7.44,"y":0.93},{"x":7.47,"y":1.12},{"x":7.50,"y":1.00},{"x":7.53,"y":0.89},{"x":7.56,"y":1.07},{"x":7.59,"y":0.96},
{"x":7.62,"y":1.14},{"x":7.65,"y":1.03},{"x":7.69,"y":0.91},{"x":7.72,"y":1.10},{"x":7.75,"y":0.98},{"x":7.79,"y":0.87},
{"x":7.84,"y":1.06},{"x":7.90,"y":0.94},{"x":7.96,"y":1.13},{"x":8.04,"y":1.01},
{"x":2.295,"y":0.94},{"x":2.305,"y":1.05},{"x":2.315,"y":0.87},{"x":2.325,"y":0.98},{"x":2.335,"y":1.10},{"x":2.345,"y":0.91},{"x":2.355,"y":1.03},{"x":2.365,"y":1.14},{"x":2.375,"y":0.95},{"x":2.385,"y":1.07},{"x":2.395,"y":0.88},{"x":2.405,"y":1.00},{"x":2.415,"y":1.11},{"x":2.425,"y":0.93},{"x":2.435,"y":1.04},{"x":2.445,"y":0.86},{"x":2.455,"y":0.97},{"x":2.465,"y":1.09},{"x":2.475,"y":0.90},{"x":2.485,"y":1.02},{"x":2.495,"y":1.13},{"x":2.505,"y":0.94},{"x":2.515,"y":1.06},{"x":2.525,"y":0.87},{"x":2.535,"y":0.99},{"x":2.545,"y":1.10},{"x":2.555,"y":0.92},{"x":2.565,"y":1.03},{"x":2.575,"y":1.15},{"x":2.585,"y":0.96},{"x":2.595,"y":1.08},{"x":2.605,"y":0.89},{"x":2.615,"y":1.01},{"x":2.625,"y":1.12},{"x":2.635,"y":0.93},{"x":2.645,"y":1.05},{"x":2.655,"y":0.86},{"x":2.665,"y":0.98},
{"x":2.295,"y":1.08},{"x":2.305,"y":0.89},{"x":2.315,"y":1.01},{"x":2.325,"y":1.12},{"x":2.335,"y":0.93},{"x":2.345,"y":1.05},{"x":2.355,"y":0.86},{"x":2.365,"y":0.98},{"x":2.375,"y":1.09},{"x":2.385,"y":0.91},{"x":2.395,"y":1.02},{"x":2.405,"y":1.14},{"x":2.415,"y":0.95},{"x":2.425,"y":1.07},{"x":2.435,"y":0.88},{"x":2.445,"y":0.99},{"x":2.455,"y":1.11},{"x":2.465,"y":0.92},{"x":2.475,"y":1.04},{"x":2.485,"y":0.85},{"x":2.495,"y":0.97},{"x":2.505,"y":1.08},{"x":2.515,"y":0.90},{"x":2.525,"y":1.01},{"x":2.535,"y":1.13},{"x":2.545,"y":0.96},{"x":2.555,"y":1.08},{"x":2.565,"y":0.89},{"x":2.575,"y":1.01},{"x":2.585,"y":1.12},{"x":2.595,"y":0.94},{"x":2.605,"y":1.05},{"x":2.615,"y":0.87},{"x":2.625,"y":0.98},{"x":2.635,"y":1.10},{"x":2.645,"y":0.91},{"x":2.655,"y":1.03},{"x":2.665,"y":1.14},
{"x":2.385,"y":0.99},{"x":2.395,"y":1.10},{"x":2.405,"y":0.92},{"x":2.415,"y":1.03},{"x":2.425,"y":1.15},{"x":2.435,"y":0.96},{"x":2.445,"y":1.08},{"x":2.455,"y":0.89},{"x":2.465,"y":1.01},{"x":2.475,"y":1.12},{"x":2.485,"y":0.93},{"x":2.495,"y":1.05},{"x":2.505,"y":0.86},{"x":2.515,"y":0.98},{"x":2.525,"y":1.09},{"x":2.535,"y":0.91},{"x":2.545,"y":1.02},{"x":2.555,"y":1.14},{"x":2.565,"y":0.95},{"x":2.575,"y":1.07},{"x":2.585,"y":0.88},{"x":2.595,"y":0.99},{"x":2.605,"y":1.11},{"x":2.615,"y":0.92},{"x":2.625,"y":1.04},{"x":2.635,"y":0.85},{"x":2.645,"y":0.97},{"x":2.655,"y":1.08},{"x":2.665,"y":0.90},
{"x":2.675,"y":0.96},{"x":2.685,"y":1.08},{"x":2.695,"y":0.89},{"x":2.705,"y":1.01},{"x":2.715,"y":1.12},{"x":2.725,"y":0.94},{"x":2.735,"y":1.05},{"x":2.745,"y":0.87},{"x":2.755,"y":0.98},{"x":2.765,"y":1.10},{"x":2.775,"y":0.91},{"x":2.785,"y":1.03},{"x":2.795,"y":1.14},{"x":2.805,"y":0.95},{"x":2.815,"y":1.07},{"x":2.825,"y":0.88},{"x":2.835,"y":1.00},{"x":2.845,"y":1.11},{"x":2.855,"y":0.93},{"x":2.865,"y":1.04},{"x":2.875,"y":0.86},{"x":2.885,"y":0.97},{"x":2.895,"y":1.09},{"x":2.905,"y":0.90},{"x":2.915,"y":1.02},{"x":2.925,"y":1.13},{"x":2.935,"y":0.94},{"x":2.945,"y":1.06},{"x":2.955,"y":0.87},{"x":2.965,"y":0.99},{"x":2.975,"y":1.10},
{"x":2.675,"y":1.10},{"x":2.685,"y":0.92},{"x":2.695,"y":1.03},{"x":2.705,"y":1.15},{"x":2.715,"y":0.96},{"x":2.725,"y":1.08},{"x":2.735,"y":0.89},{"x":2.745,"y":1.01},{"x":2.755,"y":1.12},{"x":2.765,"y":0.93},{"x":2.775,"y":1.05},{"x":2.785,"y":0.86},{"x":2.795,"y":0.98},{"x":2.805,"y":1.09},{"x":2.815,"y":0.91},{"x":2.825,"y":1.02},{"x":2.835,"y":1.14},{"x":2.845,"y":0.95},{"x":2.855,"y":1.07},{"x":2.865,"y":0.88},{"x":2.875,"y":0.99},{"x":2.885,"y":1.11},{"x":2.895,"y":0.92},{"x":2.905,"y":1.04},{"x":2.915,"y":0.85},{"x":2.925,"y":0.97},{"x":2.935,"y":1.08},{"x":2.945,"y":0.90},{"x":2.955,"y":1.01},{"x":2.965,"y":1.13},{"x":2.975,"y":0.96},
{"x":2.675,"y":0.88},{"x":2.685,"y":1.00},{"x":2.695,"y":1.11},{"x":2.705,"y":0.93},{"x":2.715,"y":1.04},{"x":2.725,"y":0.86},{"x":2.735,"y":0.97},{"x":2.745,"y":1.09},{"x":2.755,"y":0.90},{"x":2.765,"y":1.02},{"x":2.775,"y":1.13},{"x":2.785,"y":0.94},{"x":2.795,"y":1.06},{"x":2.805,"y":0.87},{"x":2.815,"y":0.99},{"x":2.825,"y":1.10},{"x":2.835,"y":0.92},{"x":2.845,"y":1.03},{"x":2.855,"y":1.15},{"x":2.865,"y":0.96},{"x":2.875,"y":1.08},{"x":2.885,"y":0.89},{"x":2.895,"y":1.01},{"x":2.905,"y":1.12},{"x":2.915,"y":0.93},{"x":2.925,"y":1.05},{"x":2.935,"y":0.86},{"x":2.945,"y":0.98},{"x":2.955,"y":1.09},{"x":2.965,"y":0.91},{"x":2.975,"y":1.02},
{"x":2.675,"y":1.04},{"x":2.685,"y":0.86},{"x":2.695,"y":0.97},{"x":2.705,"y":1.09},{"x":2.715,"y":0.90},{"x":2.725,"y":1.02},{"x":2.735,"y":1.13},{"x":2.745,"y":0.94},{"x":2.755,"y":1.06},{"x":2.765,"y":0.87},{"x":2.775,"y":0.99},{"x":2.785,"y":1.10},
{"x":2.985,"y":0.96},{"x":2.995,"y":1.08},{"x":3.005,"y":0.89},{"x":3.015,"y":1.01},{"x":3.025,"y":1.12},{"x":3.035,"y":0.94},{"x":3.045,"y":1.05},{"x":3.055,"y":0.87},{"x":3.065,"y":0.98},{"x":3.075,"y":1.10},{"x":3.085,"y":0.91},{"x":3.095,"y":1.03},{"x":3.105,"y":1.14},{"x":3.115,"y":0.95},{"x":3.125,"y":1.07},{"x":3.135,"y":0.88},{"x":3.145,"y":1.00},{"x":3.155,"y":1.11},{"x":3.165,"y":0.93},{"x":3.175,"y":1.04},{"x":3.185,"y":0.86},{"x":3.195,"y":0.97},{"x":3.205,"y":1.09},{"x":3.215,"y":0.90},
{"x":2.995,"y":1.02},{"x":3.025,"y":1.13},{"x":3.055,"y":0.94},{"x":3.085,"y":1.06},
{"x":3.225,"y":0.87},{"x":3.235,"y":0.99},{"x":3.255,"y":1.10},{"x":3.265,"y":0.92},{"x":3.275,"y":1.03},{"x":3.295,"y":1.15},{"x":3.305,"y":0.96},{"x":3.315,"y":1.08},{"x":3.335,"y":0.89},{"x":3.345,"y":1.01},{"x":3.355,"y":1.12},{"x":3.375,"y":0.93},{"x":3.385,"y":1.05},{"x":3.395,"y":0.86},{"x":3.415,"y":0.98},{"x":3.425,"y":1.09},{"x":3.435,"y":0.91},{"x":3.455,"y":1.02},{"x":3.465,"y":1.14},{"x":3.475,"y":0.95},{"x":3.495,"y":1.07},{"x":3.505,"y":0.88},
{"x":3.525,"y":0.99},{"x":3.545,"y":1.11},{"x":3.565,"y":0.92},{"x":3.575,"y":1.04},{"x":3.595,"y":0.85},{"x":3.615,"y":0.97},{"x":3.635,"y":1.08},{"x":3.645,"y":0.90},{"x":3.665,"y":1.01},{"x":3.685,"y":1.13},{"x":3.705,"y":0.96},{"x":3.715,"y":1.08},{"x":3.735,"y":0.89},{"x":3.755,"y":1.01},{"x":3.775,"y":1.12},{"x":3.785,"y":0.94},{"x":3.805,"y":1.05},
{"x":3.825,"y":0.87},{"x":3.845,"y":0.98},{"x":3.865,"y":1.10},{"x":3.885,"y":0.91},{"x":3.905,"y":1.03},{"x":3.925,"y":1.14},{"x":3.945,"y":0.95},{"x":3.975,"y":1.07},{"x":3.995,"y":0.88},{"x":4.015,"y":1.00},{"x":4.035,"y":1.11},{"x":4.055,"y":0.93},{"x":4.075,"y":1.04},{"x":4.095,"y":0.86},
{"x":4.125,"y":0.97},{"x":4.155,"y":1.09},{"x":4.185,"y":0.90},{"x":4.215,"y":1.02},{"x":4.245,"y":1.13},{"x":4.275,"y":0.94},{"x":4.305,"y":1.06},{"x":4.335,"y":0.87},{"x":4.365,"y":0.99},{"x":4.395,"y":1.10},
{"x":4.425,"y":0.92},{"x":4.455,"y":1.03},{"x":4.485,"y":1.15},{"x":4.515,"y":0.96},{"x":4.545,"y":1.08},{"x":4.575,"y":0.89},{"x":4.605,"y":1.01},{"x":4.635,"y":1.12},{"x":4.665,"y":0.93},{"x":4.695,"y":1.05},{"x":4.725,"y":0.86},{"x":4.755,"y":0.98},{"x":4.785,"y":1.09},{"x":4.815,"y":0.91},
{"x":4.845,"y":1.02},{"x":4.875,"y":1.14},{"x":4.915,"y":0.95},{"x":4.945,"y":1.07},{"x":4.985,"y":0.88},
{"x":5.025,"y":0.99},{"x":5.055,"y":1.11},{"x":5.095,"y":0.92},{"x":5.125,"y":1.04},{"x":5.155,"y":0.85},{"x":5.195,"y":0.97},
{"x":5.235,"y":1.08},{"x":5.275,"y":0.90},{"x":5.315,"y":1.01},{"x":5.355,"y":1.13},{"x":5.395,"y":0.96},
{"x":5.435,"y":1.08},{"x":5.475,"y":0.89},{"x":5.515,"y":1.01},{"x":5.555,"y":1.12},{"x":5.595,"y":0.94},
{"x":5.635,"y":1.05},{"x":5.675,"y":0.87},{"x":5.715,"y":0.98},{"x":5.755,"y":1.10},{"x":5.795,"y":0.91},
{"x":5.835,"y":1.03},{"x":5.875,"y":1.14},{"x":5.915,"y":0.95},{"x":5.955,"y":1.07},{"x":5.995,"y":0.88},
{"x":6.025,"y":1.00},{"x":6.055,"y":1.11},{"x":6.095,"y":0.93},{"x":6.125,"y":1.04},{"x":6.155,"y":0.86},{"x":6.195,"y":0.97},
{"x":6.225,"y":1.09},{"x":6.255,"y":0.90},{"x":6.285,"y":1.02},{"x":6.315,"y":1.13},{"x":6.345,"y":0.94},{"x":6.375,"y":1.06},{"x":6.405,"y":0.87},
{"x":6.425,"y":0.99},{"x":6.445,"y":1.10},{"x":6.465,"y":0.92},{"x":6.485,"y":1.03},{"x":6.515,"y":1.15},{"x":6.535,"y":0.96},{"x":6.555,"y":1.08},{"x":6.575,"y":0.89},{"x":6.595,"y":1.01},
{"x":6.625,"y":1.12},{"x":6.645,"y":0.93},{"x":6.665,"y":1.05},{"x":6.675,"y":0.86},{"x":6.695,"y":0.98},{"x":6.715,"y":1.09},{"x":6.735,"y":0.91},{"x":6.755,"y":1.02},{"x":6.765,"y":1.14},{"x":6.785,"y":0.95},{"x":6.805,"y":1.07},
{"x":6.825,"y":0.88},{"x":6.845,"y":0.99},{"x":6.865,"y":1.11},{"x":6.885,"y":0.92},{"x":6.915,"y":1.04},{"x":6.935,"y":0.85},{"x":6.955,"y":0.97},{"x":6.975,"y":1.08},{"x":6.995,"y":0.90},
{"x":7.025,"y":1.01},{"x":7.055,"y":1.13},{"x":7.075,"y":0.96},{"x":7.105,"y":1.08},{"x":7.125,"y":0.89},{"x":7.155,"y":1.01},{"x":7.175,"y":1.12},{"x":7.205,"y":0.94},
{"x":7.225,"y":1.05},{"x":7.255,"y":0.87},{"x":7.285,"y":0.98},{"x":7.315,"y":1.10},{"x":7.345,"y":0.91},{"x":7.375,"y":1.03},{"x":7.405,"y":1.14},
{"x":7.425,"y":0.95},{"x":7.455,"y":1.07},{"x":7.485,"y":0.88},{"x":7.515,"y":1.00},{"x":7.545,"y":1.11},{"x":7.575,"y":0.93},{"x":7.605,"y":1.04},
{"x":7.635,"y":0.86},{"x":7.665,"y":0.97},{"x":7.705,"y":1.09},{"x":7.735,"y":0.90},{"x":7.765,"y":1.02},{"x":7.805,"y":1.13},
{"x":7.855,"y":0.94},{"x":7.915,"y":1.06},{"x":7.975,"y":0.87},{"x":8.055,"y":0.99}
]
},
"layer":[
{"data":{"name":"band"},"mark":{"type":"rect","color":"#ebebeb"},
 "encoding":{
  "y":{"field":"lo","type":"quantitative","scale":{"domain":[0.4,2.643],"nice":false,"zero":false},
   "axis":{"title":"Mutation rate","values":[1,2],"labelExpr":"datum.value == 2 ? '1% per bit' : '2% per bit'"}},
  "y2":{"field":"hi"},
  "x":{"value":0},"x2":{"value":"width"}}},
{"data":{"name":"dens"},
 "transform":[{"calculate":"datum.g + 0.195","as":"b"},{"calculate":"datum.b + datum.d","as":"t"}],
 "mark":{"type":"area","fill":"#b8b8b8","stroke":"#333333","strokeWidth":1,"interpolate":"monotone"},
 "encoding":{
  "x":{"field":"x","type":"quantitative","scale":{"domain":[-0.5,10.5],"nice":false,"zero":false},
   "axis":{"title":"Population diversity (Shannon entropy, bits)","values":[0,2,4,6,8,10],"format":"d"}},
  "y":{"field":"t","type":"quantitative","scale":{"domain":[0.4,2.643],"nice":false,"zero":false},
   "axis":{"title":"Mutation rate","values":[1,2],"labelExpr":"datum.value == 2 ? '1% per bit' : '2% per bit'"}},
  "y2":{"field":"b"},
  "detail":{"field":"g","type":"nominal"}}},
{"data":{"name":"pts"},
 "mark":{"type":"point","filled":true,"color":"black","opacity":0.36,"size":9},
 "encoding":{
  "x":{"field":"x","type":"quantitative","scale":{"domain":[-0.5,10.5],"nice":false,"zero":false},
   "axis":{"title":"Population diversity (Shannon entropy, bits)","values":[0,2,4,6,8,10],"format":"d"}},
  "y":{"field":"y","type":"quantitative","scale":{"domain":[0.4,2.643],"nice":false,"zero":false},
   "axis":{"title":"Mutation rate","values":[1,2],"labelExpr":"datum.value == 2 ? '1% per bit' : '2% per bit'"}}}},
{"data":{"name":"box"},
 "mark":{"type":"rule","color":"#333333","strokeWidth":1},
 "encoding":{
  "x":{"field":"lo","type":"quantitative","scale":{"domain":[-0.5,10.5],"nice":false,"zero":false},
   "axis":{"title":"Population diversity (Shannon entropy, bits)","values":[0,2,4,6,8,10],"format":"d"}},
  "x2":{"field":"q1"},
  "y":{"field":"g","type":"quantitative","scale":{"domain":[0.4,2.643],"nice":false,"zero":false},
   "axis":{"title":"Mutation rate","values":[1,2],"labelExpr":"datum.value == 2 ? '1% per bit' : '2% per bit'"}}}},
{"data":{"name":"box"},
 "mark":{"type":"rule","color":"#333333","strokeWidth":1},
 "encoding":{
  "x":{"field":"q3","type":"quantitative","scale":{"domain":[-0.5,10.5],"nice":false,"zero":false},
   "axis":{"title":"Population diversity (Shannon entropy, bits)","values":[0,2,4,6,8,10],"format":"d"}},
  "x2":{"field":"hi"},
  "y":{"field":"g","type":"quantitative","scale":{"domain":[0.4,2.643],"nice":false,"zero":false},
   "axis":{"title":"Mutation rate","values":[1,2],"labelExpr":"datum.value == 2 ? '1% per bit' : '2% per bit'"}}}},
{"data":{"name":"box"},
 "transform":[{"calculate":"datum.g - 0.05","as":"b0"},{"calculate":"datum.g + 0.05","as":"b1"}],
 "mark":{"type":"rect","fill":"white","fillOpacity":0.6,"stroke":"#333333","strokeWidth":1},
 "encoding":{
  "x":{"field":"q1","type":"quantitative","scale":{"domain":[-0.5,10.5],"nice":false,"zero":false},
   "axis":{"title":"Population diversity (Shannon entropy, bits)","values":[0,2,4,6,8,10],"format":"d"}},
  "x2":{"field":"q3"},
  "y":{"field":"b0","type":"quantitative","scale":{"domain":[0.4,2.643],"nice":false,"zero":false},
   "axis":{"title":"Mutation rate","values":[1,2],"labelExpr":"datum.value == 2 ? '1% per bit' : '2% per bit'"}},
  "y2":{"field":"b1"}}},
{"data":{"name":"box"},
 "transform":[{"calculate":"datum.g - 0.05","as":"b0"},{"calculate":"datum.g + 0.05","as":"b1"}],
 "mark":{"type":"rule","color":"#333333","strokeWidth":2},
 "encoding":{
  "x":{"field":"med","type":"quantitative","scale":{"domain":[-0.5,10.5],"nice":false,"zero":false},
   "axis":{"title":"Population diversity (Shannon entropy, bits)","values":[0,2,4,6,8,10],"format":"d"}},
  "y":{"field":"b0","type":"quantitative","scale":{"domain":[0.4,2.643],"nice":false,"zero":false},
   "axis":{"title":"Mutation rate","values":[1,2],"labelExpr":"datum.value == 2 ? '1% per bit' : '2% per bit'"}},
  "y2":{"field":"b1"}}}
]
}
